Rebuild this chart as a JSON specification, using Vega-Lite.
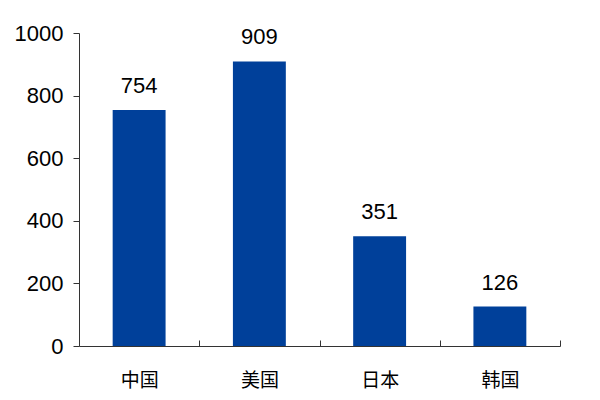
{
  "$schema": "https://vega.github.io/schema/vega-lite/v6.json",
  "autosize": {"type": "none"},
  "padding": {"left": 79, "top": 33, "right": 40, "bottom": 54},
  "width": 481,
  "height": 313,
  "background": "white",
  "data": {
    "values": [
      {"country": "中国", "value": 754},
      {"country": "美国", "value": 909},
      {"country": "日本", "value": 351},
      {"country": "韩国", "value": 126}
    ]
  },
  "encoding": {
    "x": {
      "field": "country",
      "type": "nominal",
      "sort": null,
      "title": null,
      "scale": {"paddingInner": 0.56, "paddingOuter": 0.28},
      "axis": {
        "labelAngle": 0,
        "labelFont": "Noto Sans CJK SC",
        "labelFontSize": 19,
        "labelColor": "black",
        "labelPadding": 31,
        "labelOffset": -60.125,
        "ticks": true,
        "tickOffset": 60.125,
        "tickSize": -6,
        "tickColor": "#333",
        "domainColor": "#333",
        "grid": false,
        "zindex": 1
      }
    },
    "y": {
      "field": "value",
      "type": "quantitative",
      "title": null,
      "scale": {"domain": [0, 1000]},
      "axis": {
        "values": [0, 200, 400, 600, 800, 1000],
        "format": "d",
        "labelFont": "Liberation Sans",
        "labelFontSize": 22,
        "labelColor": "black",
        "labelPadding": 10,
        "tickSize": 6,
        "tickColor": "#333",
        "domainColor": "#333",
        "grid": false
      }
    }
  },
  "layer": [
    {"mark": {"type": "bar", "color": "#00409a"}},
    {
      "mark": {"type": "text", "baseline": "bottom", "dy": -12, "font": "Liberation Sans", "fontSize": 22, "color": "black"},
      "encoding": {"text": {"field": "value", "type": "quantitative"}}
    }
  ],
  "config": {"view": {"stroke": null}}
}
